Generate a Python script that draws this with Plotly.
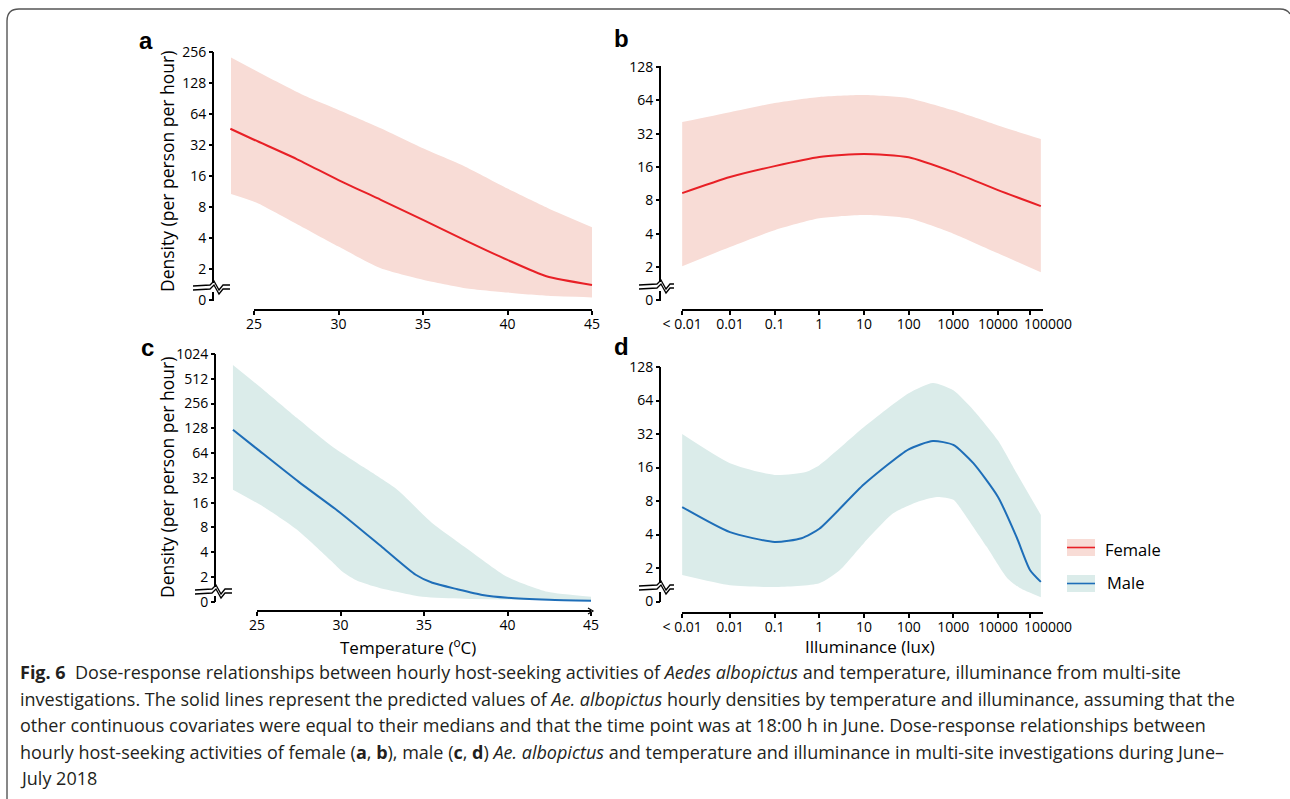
import math
import plotly.graph_objects as go

W, H = 1290, 799

# ---------------- data ----------------
# Temperature (deg C) panels
temp_ticks = [25, 30, 35, 40, 45]

# (a) Female vs temperature
a_line_x = [23.6, 25, 27.5, 30, 32.5, 35, 37.5, 40, 42.3, 45]
a_line_y = [46, 36, 23.5, 14.6, 9.4, 6.0, 3.8, 2.45, 1.7, 1.4]
a_up_x = [23.64, 26.34, 28.0, 30.0, 32.5, 35.0, 37.5, 40.0, 42.4, 45.0]
a_up_y = [227, 132, 96, 70, 46.5, 29.7, 19.7, 12.1, 7.8, 5.1]
a_lo_x = [23.64, 25.16, 27.5, 30.0, 32.5, 35.0, 37.5, 40.0, 42.4, 45.0]
a_lo_y = [10.7, 8.8, 5.5, 3.3, 2.03, 1.57, 1.30, 1.18, 1.10, 1.06]

# (c) Male vs temperature
c_line_x = [23.56, 25, 27.5, 30, 32.5, 34.5, 35.5, 37, 38.5, 40, 42.5, 45]
c_line_y = [123, 72, 28.6, 12, 4.6, 2.13, 1.7, 1.42, 1.21, 1.12, 1.06, 1.03]
c_up_x = [23.56, 25.4, 27.4, 29.4, 31.4, 33.4, 35.4, 37.4, 40.0, 42.4, 45.0]
c_up_y = [754, 375, 171, 80, 43, 23, 9.4, 4.7, 2.0, 1.32, 1.15]
c_lo_x = [23.56, 25.4, 27.4, 29.4, 30.2, 31.0, 32.3, 34.9, 37.4, 45.0]
c_lo_y = [23, 14.2, 7.5, 3.2, 2.25, 1.8, 1.48, 1.15, 1.09, 1.03]

# Illuminance (lux) panels; first point is the "< 0.01" class
lux_tick_vals = [0.00085, 0.01, 0.1, 1, 10, 100, 1000, 10000, 52000]
lux_tick_text = ["< 0.01", "0.01", "0.1", "1", "10", "100", "1000", "10000", ""]
lux_last_label = "100000"   # drawn just right of the last tick, as in the original

# (b) Female vs illuminance
b_x = [0.00085, 0.01, 0.1, 1, 10, 100, 1000, 10000, 91000]
b_line_y = [9.3, 13, 16.3, 19.7, 21, 19.6, 14.4, 9.9, 7.1]
b_up_y = [40.8, 50, 60.5, 68.6, 71.5, 67, 52, 38, 28.6]
b_lo_y = [2.03, 3.03, 4.3, 5.5, 5.9, 5.5, 4.0, 2.66, 1.79]

# (d) Male vs illuminance
d_line_x = [0.00085, 0.01, 0.1, 0.4, 1, 10, 100, 350, 1000, 2800, 10000, 26000, 52000, 91000]
d_line_y = [7.06, 4.2, 3.43, 3.7, 4.5, 11.3, 23.3, 27.7, 25.5, 17.5, 8.7, 3.8, 1.92, 1.5]
d_up_x = [0.00085, 0.01, 0.1, 0.5, 1, 10, 100, 350, 1000, 2800, 10000, 26000, 91000]
d_up_y = [32, 17.5, 13.7, 14.6, 16.8, 37, 74.5, 92, 79, 52.7, 28, 14.3, 6.0]
d_lo_x = [0.00085, 0.01, 0.1, 1, 2.9, 10, 45, 150, 430, 1000, 2000, 5600, 16000, 31000, 91000]
d_lo_y = [1.73, 1.4, 1.35, 1.46, 1.92, 3.36, 6.2, 7.8, 8.7, 8.2, 5.7, 3.1, 1.63, 1.32, 1.09]

# density tick labels ("0" sits at the axis break)
dens_a_vals = [1, 2, 4, 8, 16, 32, 64, 128, 256]
dens_a_text = ["0", "2", "4", "8", "16", "32", "64", "128", "256"]
dens_b_vals = [1, 2, 4, 8, 16, 32, 64, 128]
dens_b_text = ["0", "2", "4", "8", "16", "32", "64", "128"]
dens_c_vals = [1, 2, 4, 8, 16, 32, 64, 128, 256, 512, 1024]
dens_c_text = ["0", "2", "4", "8", "16", "32", "64", "128", "256", "512", "1024"]

# ---------------- styling ----------------
F_FILL = "rgb(248,220,214)"
F_LINE = "rgb(232,32,38)"
M_FILL = "rgb(219,236,234)"
M_LINE = "rgb(30,110,184)"
TICKFONT = dict(family="Open Sans", size=14, color="black")


def log_y(v_hi, py_hi, v_lo, py_lo, top, bot):
    k = (math.log10(v_hi) - math.log10(v_lo)) / (py_lo - py_hi)
    return dict(domain=[1 - bot / H, 1 - top / H],
                range=[math.log10(v_hi) - (bot - py_hi) * k,
                       math.log10(v_hi) + (py_hi - top) * k])


def lin_x(v0, px0, v1, px1, left, right):
    k = (v1 - v0) / (px1 - px0)
    return dict(domain=[left / W, right / W],
                range=[v0 - (px0 - left) * k, v1 + (right - px1) * k])


def log_x(v0, px0, v1, px1, left, right):
    l0, l1 = math.log10(v0), math.log10(v1)
    k = (l1 - l0) / (px1 - px0)
    return dict(domain=[left / W, right / W],
                range=[l0 - (px0 - left) * k, l1 + (right - px1) * k])


fig = go.Figure()


def band(xu, yu, xl, yl, color, ax, ay):
    fig.add_trace(go.Scatter(x=xu, y=yu, mode="lines", line=dict(width=0, shape="spline", smoothing=0.6),
                             xaxis=ax, yaxis=ay, showlegend=False, hoverinfo="skip"))
    fig.add_trace(go.Scatter(x=xl, y=yl, mode="lines", line=dict(width=0, shape="spline", smoothing=0.6),
                             fill="tonexty", fillcolor=color,
                             xaxis=ax, yaxis=ay, showlegend=False, hoverinfo="skip"))


def line(x, y, color, ax, ay):
    fig.add_trace(go.Scatter(x=x, y=y, mode="lines", line=dict(width=2, color=color, shape="spline", smoothing=0.6),
                             xaxis=ax, yaxis=ay, showlegend=False, hoverinfo="skip"))


band(a_up_x, a_up_y, a_lo_x, a_lo_y, F_FILL, "x", "y")
line(a_line_x, a_line_y, F_LINE, "x", "y")
band(b_x, b_up_y, b_x, b_lo_y, F_FILL, "x2", "y2")
line(b_x, b_line_y, F_LINE, "x2", "y2")
band(c_up_x, c_up_y, c_lo_x, c_lo_y, M_FILL, "x3", "y3")
line(c_line_x, c_line_y, M_LINE, "x3", "y3")
band(d_up_x, d_up_y, d_lo_x, d_lo_y, M_FILL, "x4", "y4")
line(d_line_x, d_line_y, M_LINE, "x4", "y4")

common = dict(showgrid=False, zeroline=False, showline=False, ticks="outside", ticklen=4,
              tickwidth=1.5, tickcolor="black", tickfont=TICKFONT, anchor="free",
              automargin=False, tickangle=0)
xcommon = dict(common, ticklabelstandoff=-3)

xa = dict(type="linear", tickvals=temp_ticks, position=1 - 310 / H, **xcommon, **lin_x(25, 254, 45, 592, 213, 596))
xc = dict(type="linear", tickvals=temp_ticks, position=1 - 611 / H, **xcommon, **lin_x(25, 257, 45, 591, 215, 596))
xb = dict(type="log", tickvals=lux_tick_vals, ticktext=lux_tick_text, position=1 - 310 / H, **xcommon,
          **log_x(0.01, 730, 10000, 998, 660, 1046))
xd = dict(type="log", tickvals=lux_tick_vals, ticktext=lux_tick_text, position=1 - 613 / H, **xcommon,
          **log_x(0.01, 730, 10000, 998, 660, 1046))

ya = dict(type="log", tickvals=dens_a_vals, ticktext=dens_a_text, position=213 / W, **common,
          **log_y(256, 52, 2, 269, 40, 306))
yb = dict(type="log", tickvals=dens_b_vals, ticktext=dens_b_text, position=660 / W, **common,
          **log_y(128, 67, 2, 267, 55, 306))
yc = dict(type="log", tickvals=dens_c_vals, ticktext=dens_c_text, position=215 / W, **common,
          **log_y(1024, 354, 2, 577, 345, 607))
yd = dict(type="log", tickvals=dens_b_vals, ticktext=dens_b_text, position=660 / W, **common,
          **log_y(128, 367, 2, 568, 355, 608))

shapes = []


def pline(pts, width=2, color="black"):
    path = "M " + " L ".join(f"{x / W:.5f},{1 - y / H:.5f}" for x, y in pts)
    shapes.append(dict(type="path", path=path, xref="paper", yref="paper",
                       line=dict(color=color, width=width)))


def axes_deco(xa_px, y_top, yb_px, y_zero, x0, x1, xl0, xl1, x_axis_y):
    pline([(xa_px, y_top), (xa_px, yb_px)])
    u = [(x0, yb_px + 3), (xa_px - 3, yb_px + 2), (xa_px + 1, yb_px - 2), (xa_px + 6, yb_px + 7),
         (xa_px + 10, yb_px + 2), (x1, yb_px + 2)]
    l = [(x, y + 4) for x, y in u]
    pline(u, 1.3)
    pline(l, 1.3)
    pline([(xa_px, yb_px + 9), (xa_px, y_zero + 1)])
    pline([(xl0, x_axis_y), (xl1, x_axis_y)])


axes_deco(213, 52, 283, 300, 193, 230, 254, 592, 310)
axes_deco(660, 66, 282, 300, 639, 674, 682, 1043, 310)
axes_deco(215, 354, 587, 601, 195, 232, 257, 591, 611)
axes_deco(660, 367, 583, 601, 639, 674, 682, 1043, 613)
# small arrow head at the end of the temperature axis in panel c
pline([(588, 608), (593, 611), (588, 614)], 1.2)

# legend swatches
for yc_, fc, lc in [(547.5, F_FILL, F_LINE), (583.5, M_FILL, M_LINE)]:
    shapes.append(dict(type="rect", xref="paper", yref="paper", x0=1067 / W, x1=1095 / W,
                       y0=1 - (yc_ + 8.5) / H, y1=1 - (yc_ - 8.5) / H, fillcolor=fc, line=dict(width=0)))
    pline([(1067, yc_), (1095, yc_)], 1.6, lc)

# rounded frame
frame = (f"M {7 / W:.5f},{0:.5f} L {7 / W:.5f},{1 - 21 / H:.5f} "
         f"Q {7 / W:.5f},{1 - 9 / H:.5f} {19 / W:.5f},{1 - 9 / H:.5f} "
         f"L {1280 / W:.5f},{1 - 9 / H:.5f} Q {1287 / W:.5f},{1 - 9 / H:.5f} {1290 / W:.5f},{1 - 14 / H:.5f}")
shapes.append(dict(type="path", path=frame, xref="paper", yref="paper", line=dict(color="#555", width=1.4)))

annotations = []


def text(x, y, s, size, family="Open Sans", xanchor="center", yanchor="middle", angle=0, color="black"):
    annotations.append(dict(x=x / W, y=1 - y / H, xref="paper", yref="paper", text=s, showarrow=False,
                            xanchor=xanchor, yanchor=yanchor, textangle=angle,
                            font=dict(family=family, size=size, color=color)))


for lab, x, y in [("a", 146, 40), ("b", 621, 39), ("c", 147, 347), ("d", 621, 346)]:
    text(x, y, f"<b>{lab}</b>", 24, family="Liberation Sans")

# last illuminance tick label, sitting just right of its tick
text(1022, 323, lux_last_label, 14, xanchor="left")
text(1022, 626, lux_last_label, 14, xanchor="left")

text(167, 172, "Density (per person per hour)", 17.5, angle=-90)
text(167, 478, "Density (per person per hour)", 17.5, angle=-90)
text(408, 646, "Temperature (<sup>o</sup>C)", 17)
text(870, 646, "Illuminance (lux)", 17)
text(1103, 549, "Female", 16.5, xanchor="left")
text(1105, 582, "Male", 16.5, xanchor="left")

caption = [
    "<b>Fig. 6</b>\u00a0\u00a0Dose-response relationships between hourly host-seeking activities of <i>Aedes albopictus</i> and temperature, illuminance from multi-site",
    "investigations. The solid lines represent the predicted values of <i>Ae. albopictus</i> hourly densities by temperature and illuminance, assuming that the",
    "other continuous covariates were equal to their medians and that the time point was at 18:00 h in June. Dose-response relationships between",
    "hourly host-seeking activities of female (<b>a</b>, <b>b</b>), male (<b>c</b>, <b>d</b>) <i>Ae. albopictus</i> and temperature and illuminance in multi-site investigations during June–",
    "July 2018",
]
for i, s in enumerate(caption):
    text(18, 672 + 26.5 * i, s, 18, xanchor="left", color="#231f20")

fig.update_layout(
    width=W, height=H, margin=dict(l=0, r=0, t=0, b=0),
    paper_bgcolor="white", plot_bgcolor="rgba(0,0,0,0)",
    xaxis=xa, yaxis=ya, xaxis2=xb, yaxis2=yb, xaxis3=xc, yaxis3=yc, xaxis4=xd, yaxis4=yd,
    shapes=shapes, annotations=annotations, showlegend=False,
)

fig.write_html("out.html", config={"displayModeBar": False},
               post_script="document.body.style.margin='0px';document.body.style.overflow='hidden';")
